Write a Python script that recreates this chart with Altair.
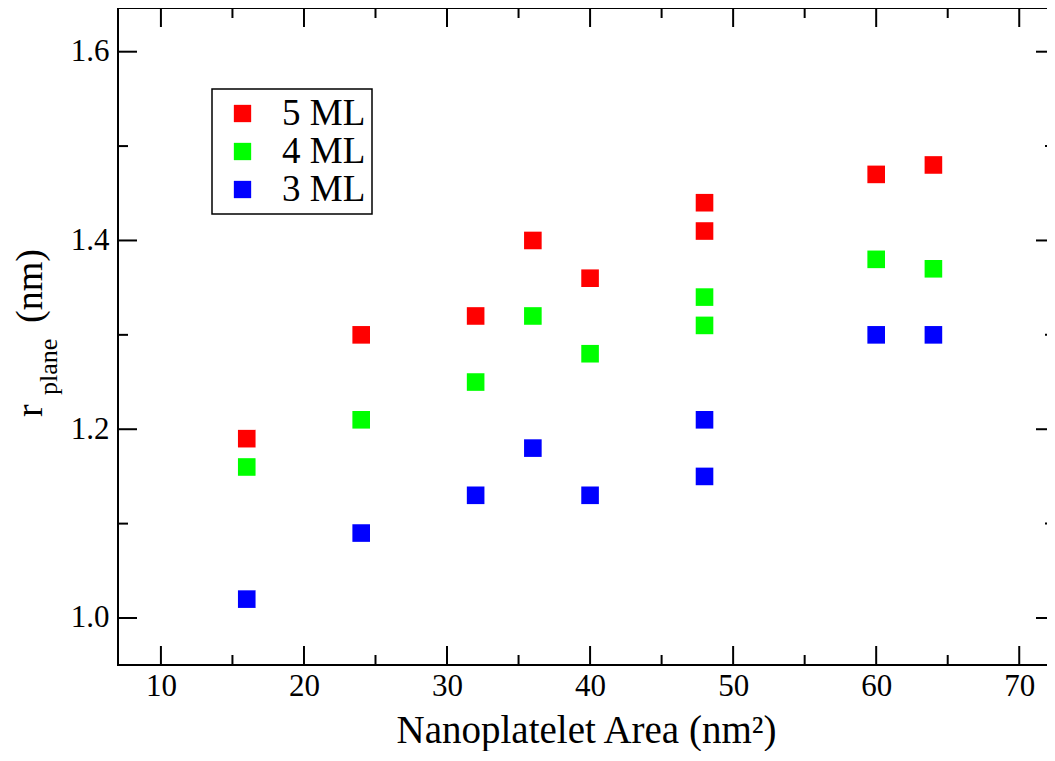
import altair as alt
import pandas as pd

# ---- data ----
areas = [16, 24, 32, 36, 40, 48, 48, 60, 64]
r_5ml = [1.19, 1.30, 1.32, 1.40, 1.36, 1.44, 1.41, 1.47, 1.48]
r_4ml = [1.16, 1.21, 1.25, 1.32, 1.28, 1.34, 1.31, 1.38, 1.37]
r_3ml = [1.02, 1.09, 1.13, 1.18, 1.13, 1.21, 1.15, 1.30, 1.30]
series = ["5 ML", "4 ML", "3 ML"]
colors = ["#ff0000", "#00ff00", "#0000ff"]

x_major = [10, 20, 30, 40, 50, 60, 70]
x_minor = [15, 25, 35, 45, 55, 65]
y_major = [1.0, 1.2, 1.4, 1.6]
y_minor = [1.1, 1.3, 1.5]

W, H = 937, 657
FONT = "Liberation Serif"

rows = []
for name, vals in zip(series, [r_5ml, r_4ml, r_3ml]):
    for a, v in zip(areas, vals):
        rows.append({"area": a, "r": v, "series": name})
df = pd.DataFrame(rows)

xscale = alt.Scale(domain=[7, 72.5], nice=False, zero=False)
yscale = alt.Scale(domain=[0.9502, 1.6463], nice=False, zero=False)

xaxis = alt.Axis(values=x_major, format="d", labelFont=FONT, labelFontSize=31,
                 labelColor="black", labelPadding=6, ticks=False, tickSize=0,
                 domain=False, grid=False, title=None, labelFlush=False)
yaxis = alt.Axis(values=y_major, format=".1f", labelFont=FONT, labelFontSize=31,
                 labelColor="black", labelPadding=9, ticks=False, tickSize=0,
                 domain=False, grid=False, title=None)

points = alt.Chart(df).mark_square(size=310, opacity=1, filled=True).encode(
    x=alt.X("area:Q", scale=xscale, axis=xaxis),
    y=alt.Y("r:Q", scale=yscale, axis=yaxis),
    color=alt.Color("series:N",
                    scale=alt.Scale(domain=series, range=colors),
                    sort=series,
                    legend=alt.Legend(
                        title=None, orient="none", legendX=94, legendY=81,
                        symbolType="square", symbolSize=300, symbolOpacity=1,
                        symbolStrokeWidth=0, symbolOffset=6,
                        labelFont=FONT, labelFontSize=37, labelColor="black",
                        labelOffset=21, rowPadding=0, padding=6,
                        fillColor="white", strokeColor="black")),
)

# inward tick marks on all four sides
def xticks(vals, length):
    d = pd.DataFrame({"v": vals})
    bottom = alt.Chart(d).mark_rule(color="black", strokeWidth=2).encode(
        x=alt.X("v:Q", scale=xscale), y=alt.value(H), y2=alt.value(H - length))
    top = alt.Chart(d).mark_rule(color="black", strokeWidth=2).encode(
        x=alt.X("v:Q", scale=xscale), y=alt.value(0), y2=alt.value(length))
    return [bottom, top]

def yticks(vals, length):
    d = pd.DataFrame({"v": vals})
    left = alt.Chart(d).mark_rule(color="black", strokeWidth=2).encode(
        y=alt.Y("v:Q", scale=yscale), x=alt.value(0), x2=alt.value(length))
    right = alt.Chart(d).mark_rule(color="black", strokeWidth=2).encode(
        y=alt.Y("v:Q", scale=yscale), x=alt.value(W), x2=alt.value(W - length))
    return [left, right]

tick_layers = xticks(x_major, 19) + xticks(x_minor, 10) + yticks(y_major, 19) + yticks(y_minor, 10)

def label(text, x, y, size, angle=0, align="center", baseline="alphabetic"):
    return alt.Chart(pd.DataFrame({"t": [text]})).mark_text(
        font=FONT, fontSize=size, color="black", angle=angle,
        align=align, baseline=baseline).encode(
        text="t:N", x=alt.value(x), y=alt.value(y))

x_title = label("Nanoplatelet Area (nm²)", W / 2, H + 78, 39)
y_title_r = label("r", -76, 409, 38, angle=270, align="left")
y_title_sub = label("plane", -61, 387, 26, angle=270, align="left")
y_title_nm = label("(nm)", -76, 315, 38, angle=270, align="left")

chart = alt.layer(points, *tick_layers, x_title, y_title_r, y_title_sub, y_title_nm).properties(
    width=W, height=H,
    autosize=alt.AutoSizeParams(type="none"),
    padding={"left": 110, "top": 0, "right": -8, "bottom": 86},
).configure_view(stroke="black", strokeWidth=2).configure_legend(strokeWidth=1.5)

chart.save("out.html", embed_options={"renderer": "svg", "actions": False})
